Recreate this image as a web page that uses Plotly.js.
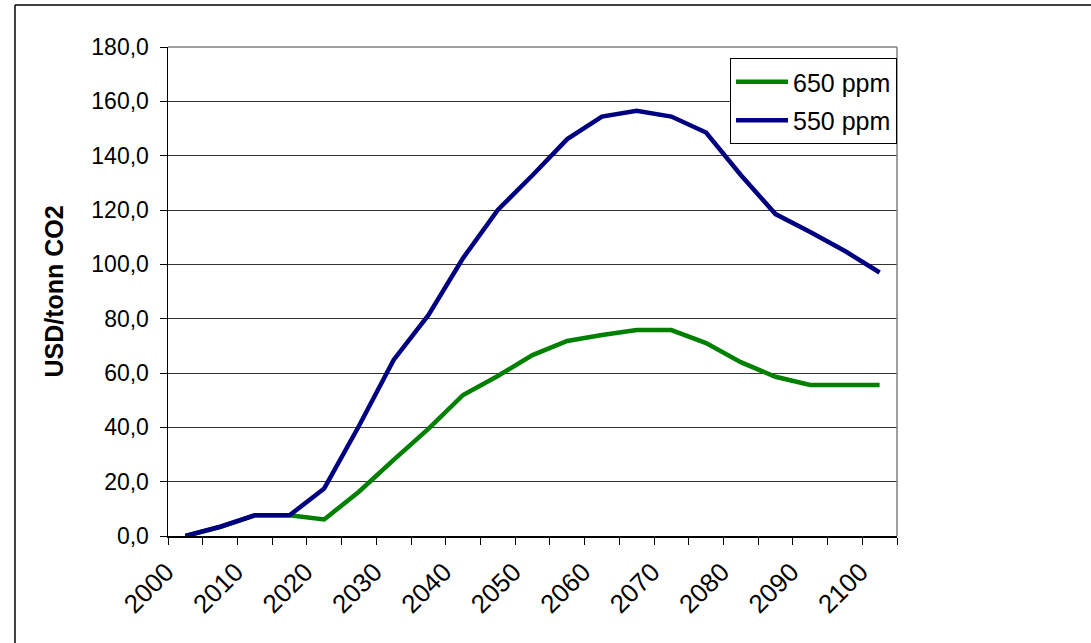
<!DOCTYPE html>
<html>
<head>
<meta charset="utf-8">
<script src="https://cdn.plot.ly/plotly-3.0.1.min.js"></script>
<style>html,body{margin:0;padding:0;background:#fff;}#chart{width:1091px;height:643px;}</style>
</head>
<body>
<div id="chart"></div>
<script>
const years = [2000,2005,2010,2015,2020,2025,2030,2035,2040,2045,2050,2055,2060,2065,2070,2075,2080,2085,2090,2095,2100];
const ppm650 = [0,3.3,7.6,7.6,6.1,16.3,28,39.4,51.9,58.9,66.6,71.8,74,75.8,75.8,71,64,58.6,55.6,55.6,55.6];
const ppm550 = [0,3.4,7.6,7.6,17.5,40.5,64.8,81.3,102.3,120,132.8,146.1,154.4,156.5,154.4,148.5,132.9,118.5,111.9,104.9,97];
const tickYears = [2000,2010,2020,2030,2040,2050,2060,2070,2080,2090,2100];
const tickLabels = ['2000','2010','2020','2030','2040','2050','2060','2070','2080','2090','2100'];
const seriesNames = ['650 ppm','550 ppm'];
const yTitle = 'USD/tonn CO2';

const font = 'Liberation Sans, Arial, sans-serif';
const traces = [
  {x: years, y: ppm650, name: seriesNames[0], legendgroup: 'a', type: 'scatter', mode: 'lines',
   line: {color: '#008000', width: 4.5}},
  {x: years, y: ppm550, name: seriesNames[1], legendgroup: 'b', type: 'scatter', mode: 'lines',
   line: {color: '#000080', width: 4.5}}
];
const layout = {
  width: 1091, height: 643,
  margin: {l: 168, r: 194, t: 47, b: 107},
  paper_bgcolor: '#fff', plot_bgcolor: '#fff',
  separators: ', ',
  font: {family: font, color: '#000', size: 23},
  showlegend: true,
  legend: {x: 1, xanchor: 'right', y: 0.9775, yanchor: 'top', bgcolor: '#fff',
           bordercolor: '#000', borderwidth: 1, font: {size: 25, family: font},
           traceorder: 'grouped', tracegroupgap: 3, itemwidth: 52},
  xaxis: {range: [1997.5, 2102.5], tickmode: 'array', tickvals: tickYears, ticktext: tickLabels,
          ticks: '', tickangle: -45, showgrid: false, zeroline: false, showline: true,
          linecolor: '#000', linewidth: 1.5, tickfont: {size: 26},
          ticklabelstandoff: 9, ticklabelshift: -19,
          minor: {tickmode: 'linear', tick0: 1997.5, dtick: 5, ticks: 'outside', ticklen: 7, tickcolor: '#000', showgrid: false}},
  yaxis: {range: [0, 180], dtick: 20, tick0: 0, tickformat: '.1f', ticks: 'outside', ticklen: 7,
          tickcolor: '#000', showgrid: true, gridcolor: '#333', gridwidth: 1, zeroline: false,
          showline: true, linecolor: '#000', linewidth: 1.5, ticklabelstandoff: 6,
          title: {text: yTitle, font: {size: 25, family: font, weight: 'bold'}, standoff: 20}},
  shapes: [
    {type: 'line', xref: 'paper', yref: 'paper', x0: 0, x1: 1, y0: 1, y1: 1, line: {color: '#808080', width: 1.5}},
    {type: 'line', xref: 'paper', yref: 'paper', x0: 1, x1: 1, y0: 0, y1: 1, line: {color: '#808080', width: 1.5}},
    {type: 'line', xref: 'paper', yref: 'paper', x0: -0.2099, x1: 1.27, y0: 1.0859, y1: 1.0859, line: {color: '#000', width: 1.5}},
    {type: 'line', xref: 'paper', yref: 'paper', x0: -0.2099, x1: -0.2099, y0: 1.0859, y1: -0.23, line: {color: '#000', width: 1.5}}
  ]
};
Plotly.newPlot('chart', traces, layout, {displayModeBar: false, staticPlot: true});
</script>
</body>
</html>
